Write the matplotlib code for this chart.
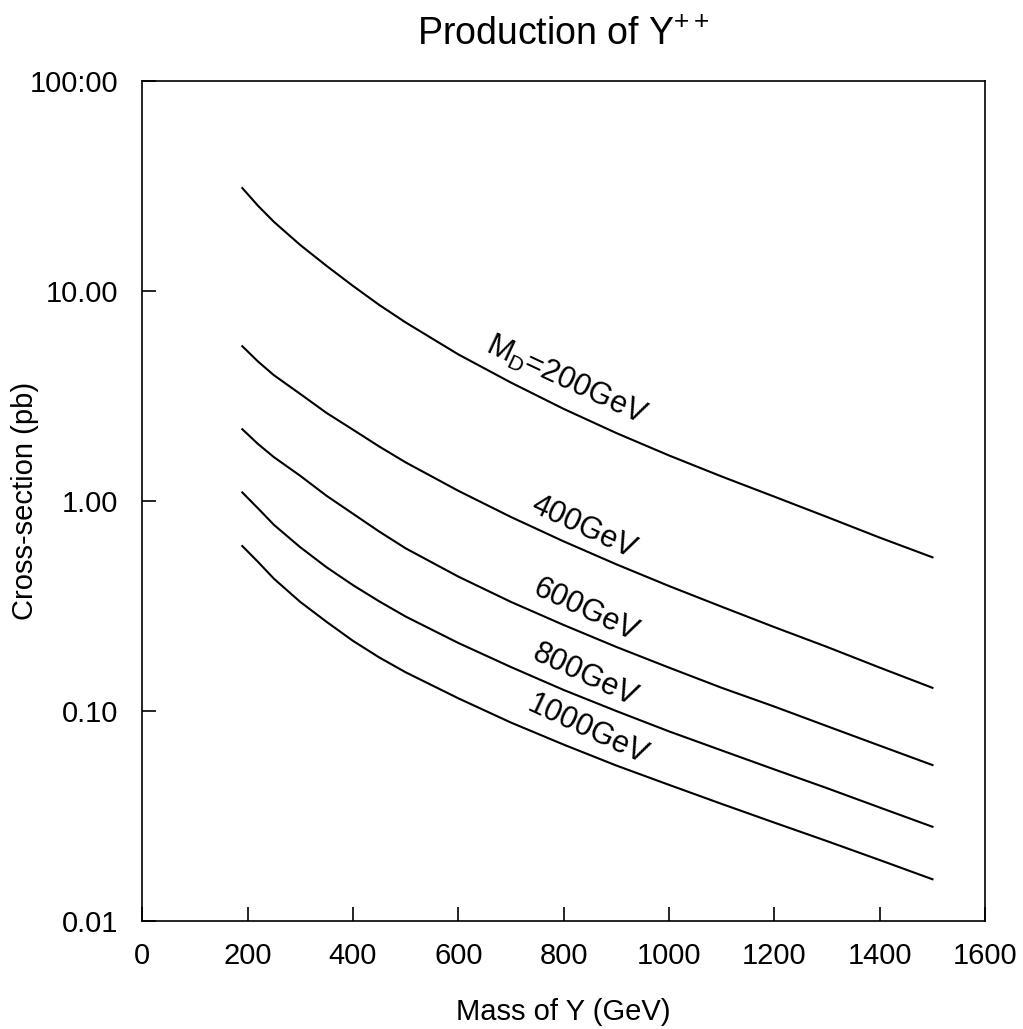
import matplotlib
matplotlib.use("Agg")
import matplotlib.pyplot as plt

plt.rcParams['font.family'] = ['Liberation Sans', 'DejaVu Sans']
plt.rcParams['mathtext.fontset'] = 'custom'
plt.rcParams['mathtext.rm'] = 'Liberation Sans'
plt.rcParams['mathtext.it'] = 'Liberation Sans'

# mass of Y (GeV)
mass = [190, 220, 250, 300, 350, 400, 450, 500, 600, 700, 800, 900, 1000, 1100, 1200, 1300, 1400, 1500]

# cross-section (pb) for each M_D
xsec200 = [31.0, 25.5, 21.4, 16.6, 13.2, 10.6, 8.6, 7.1, 5.0, 3.67, 2.75, 2.11, 1.65, 1.31, 1.05, 0.84, 0.67, 0.54]
xsec400 = [5.47, 4.62, 3.98, 3.24, 2.63, 2.19, 1.82, 1.53, 1.12, 0.84, 0.643, 0.50, 0.394, 0.314, 0.251, 0.202, 0.161, 0.129]
xsec600 = [2.20, 1.87, 1.62, 1.32, 1.06, 0.871, 0.716, 0.596, 0.437, 0.331, 0.257, 0.202, 0.161, 0.129, 0.105, 0.0847, 0.0684, 0.0553]
xsec800 = [1.10, 0.923, 0.771, 0.603, 0.484, 0.398, 0.333, 0.282, 0.211, 0.162, 0.126, 0.100, 0.080, 0.0649, 0.0527, 0.0429, 0.0347, 0.0281]
xsec1000 = [0.611, 0.513, 0.427, 0.331, 0.266, 0.216, 0.180, 0.153, 0.115, 0.0881, 0.0692, 0.0550, 0.0445, 0.0361, 0.0294, 0.0240, 0.0195, 0.0158]

curves = [xsec200, xsec400, xsec600, xsec800, xsec1000]
curveLabels = ['M$_\\mathrm{D}$=200GeV', '400GeV', '600GeV', '800GeV', '1000GeV']
# where each label sits (mass, cross-section)
labelX = [805, 837, 841, 841, 845]
labelY = [3.75, 0.75, 0.30, 0.147, 0.081]

xTicks = [0, 200, 400, 600, 800, 1000, 1200, 1400, 1600]
yTicks = [0.01, 0.1, 1, 10, 100]
yTickLabels = ['0.01', '0.10', '1.00', '10.00', '100:00']

fig = plt.figure(figsize=(10.23, 10.29), dpi=100)
ax = fig.add_axes([0.139, 0.105, 0.824, 0.816])

for ys in curves:
    ax.plot(mass, ys, color='black', linewidth=1.5)

for lab, lx, ly in zip(curveLabels, labelX, labelY):
    ax.text(lx, ly, lab, fontsize=22, rotation=-25, ha='center', va='center',
            rotation_mode='anchor')

ax.set_yscale('log')
ax.set_xlim(0, 1600)
ax.set_ylim(0.01, 100)
ax.set_xticks(xTicks)
ax.set_xticklabels([str(t) for t in xTicks])
ax.set_yticks(yTicks)
ax.set_yticklabels(yTickLabels)
ax.minorticks_off()
ax.tick_params(axis='both', direction='in', length=10, width=1.2, labelsize=21)
ax.tick_params(axis='x', pad=15)
ax.tick_params(axis='y', pad=17)
for s in ax.spines.values():
    s.set_linewidth(1.2)

ax.set_xlabel('Mass of Y (GeV)', fontsize=21)
ax.xaxis.set_label_coords(0.5, -0.092)
ax.set_ylabel('Cross-section (pb)', fontsize=21)
ax.yaxis.set_label_coords(-0.122, 0.5)
ax.set_title('Production of Y$^{++}$', fontsize=27, pad=26)

fig.savefig('out.png', dpi=100)
